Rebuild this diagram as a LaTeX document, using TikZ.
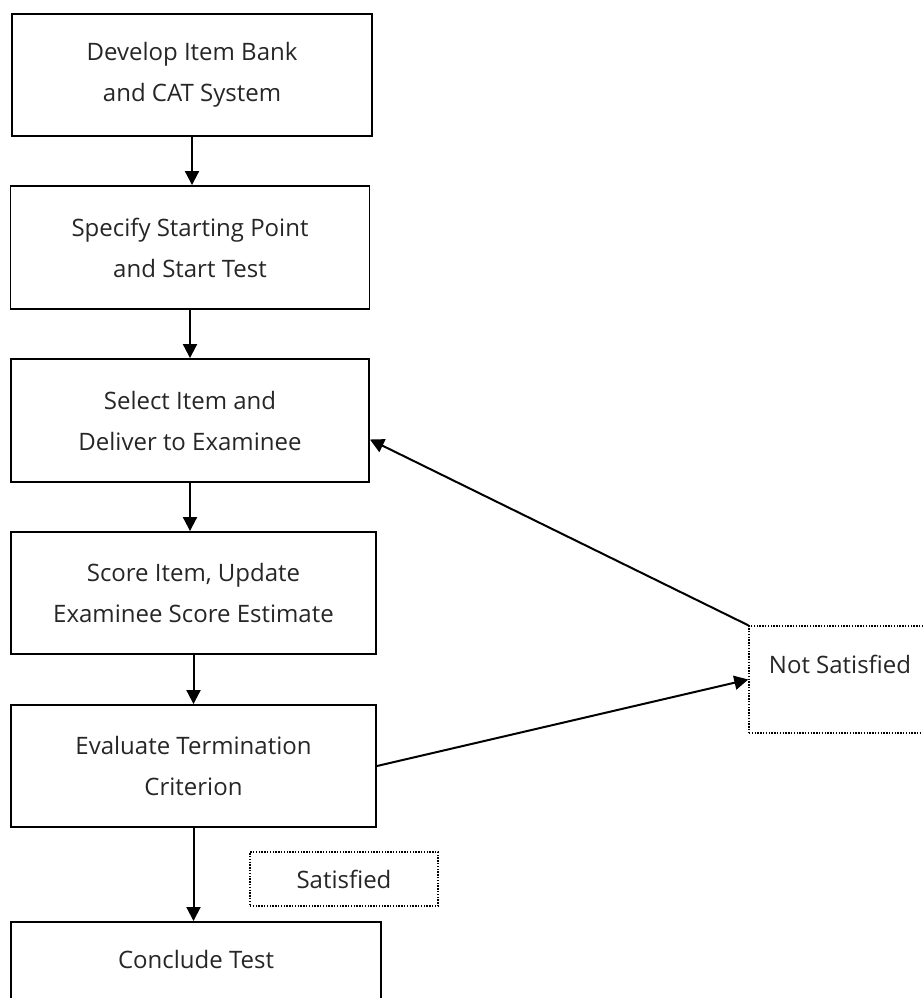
\documentclass[tikz,border=0pt]{standalone}
\usepackage{fontspec}
\setmainfont{Open Sans}
\usepackage{xcolor}
\usetikzlibrary{arrows, arrows.meta}
\usetikzlibrary{positioning}

\begin{document}
\begin{tikzpicture}[x=1pt,y=-1pt,>={Triangle[width=14pt,length=14pt]},
		stage/.style={draw, line width=1.9pt, align=center, text=black!85,
			font=\fontsize{24}{41}\selectfont},
		verdict/.style={draw, line width=1.4pt, dash pattern=on 1.4pt off 1.4pt,
			align=center, text=black!85, font=\fontsize{24}{41}\selectfont},
		flow/.style={->, line width=2pt}]
				\useasboundingbox (0,0) rectangle (923,998);
				\clip (0,0) rectangle (923,998);
				
				% draw the stages
				\node[stage, minimum width=360pt, minimum height=122pt] (bank) at (192,75) {Develop Item Bank\\and CAT System};
				\node[stage, minimum width=359pt, minimum height=123pt] (start) at (190,247.5) {Specify Starting Point\\and Start Test};
				\node[stage, minimum width=358pt, minimum height=123pt] (select) at (190,420.5) {Select Item and\\Deliver to Examinee};
				\node[stage, minimum width=365pt, minimum height=122pt] (score) at (193.5,593) {Score Item, Update\\Examinee Score Estimate};
				\node[stage, minimum width=365pt, minimum height=122pt] (evaluate) at (193.5,766) {Evaluate Termination\\Criterion};
				\node[stage, anchor=north, minimum width=370pt, minimum height=122pt, text depth=48pt] (conclude) at (196,921) {Conclude Test};
				
				% draw the outcomes
				\node[verdict, minimum width=188pt, minimum height=54pt] (sat) at (344,879) {Satisfied};
				\node[verdict, minimum width=182pt, minimum height=107pt, text depth=30pt] (notsat) at (840,679.5) {Not Satisfied};
				
				% draw arrows down the chain
				\draw[flow] (bank.south) -- (bank.south |- start.north);
				\draw[flow] (start.south) -- (start.south |- select.north);
				\draw[flow] (select.south) -- (select.south |- score.north);
				\draw[flow] (score.south) -- (score.south |- evaluate.north);
				\draw[flow] (evaluate.south) -- (evaluate.south |- conclude.north);
				
				% draw the loop back
				\draw[flow] (evaluate.east) -- (notsat.west);
				\draw[flow] (notsat.north west) -- ([yshift=-19pt]select.east);
			\end{tikzpicture}
\end{document}
